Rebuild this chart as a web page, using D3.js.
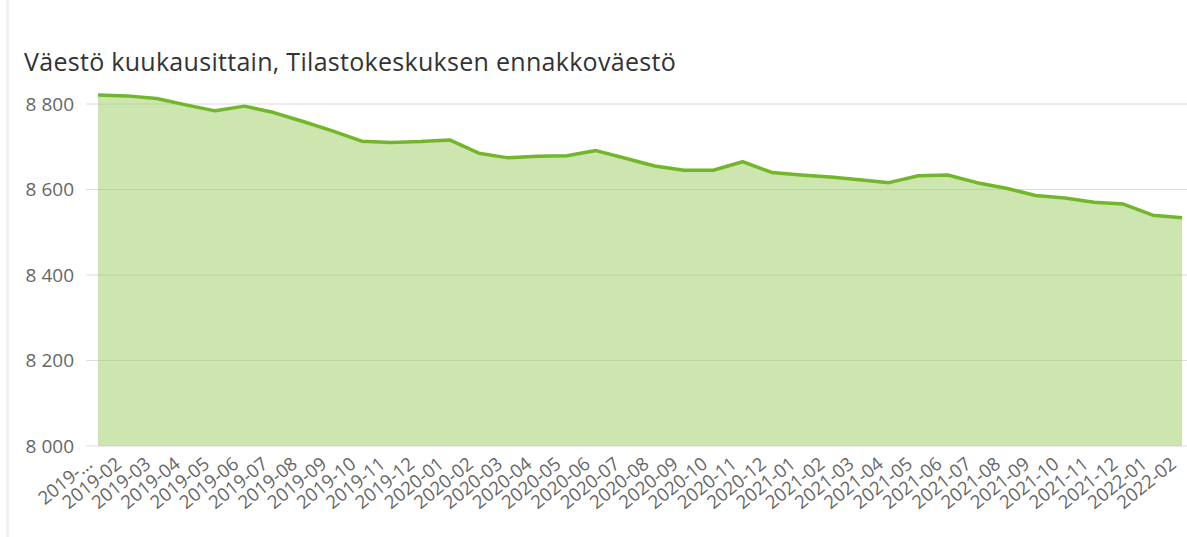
<!DOCTYPE html>
<html>
<head>
<meta charset="utf-8">
<script src="https://cdn.jsdelivr.net/npm/d3@7"></script>
<style>
  body { margin: 0; background: #fff; }
  svg { font-family: "Open Sans", "Noto Sans", sans-serif; }
</style>
</head>
<body>
<svg></svg>
<script>
var title = "Väestö kuukausittain, Tilastokeskuksen ennakkoväestö";

var months = ["2019-01","2019-02","2019-03","2019-04","2019-05","2019-06","2019-07","2019-08",
  "2019-09","2019-10","2019-11","2019-12","2020-01","2020-02","2020-03","2020-04","2020-05",
  "2020-06","2020-07","2020-08","2020-09","2020-10","2020-11","2020-12","2021-01","2021-02",
  "2021-03","2021-04","2021-05","2021-06","2021-07","2021-08","2021-09","2021-10","2021-11",
  "2021-12","2022-01","2022-02"];

var population = [8821, 8819, 8813, 8798, 8784, 8795, 8780, 8759, 8737, 8713, 8710, 8712,
  8716, 8685, 8674, 8678, 8679, 8691, 8673, 8655, 8645, 8645, 8665, 8640, 8634, 8629,
  8623, 8616, 8632, 8634, 8616, 8603, 8586, 8580, 8570, 8566, 8540, 8534];

var yTicks = [8000, 8200, 8400, 8600, 8800];

var svg = d3.select("svg")
            .attr("width", 1187)
            .attr("height", 537);

var height = 537;

// card border on the left
svg.append("rect")
   .attr("x", 6).attr("y", 0)
   .attr("width", 3).attr("height", height)
   .attr("fill", "#f2f2f2");

var titleText = svg.append("text")
   .attr("x", 24)
   .attr("y", 71)
   .attr("font-size", 25)
   .attr("fill", "#333")
   .text(title);

// stretch the title a bit to the width of the original
var tw = titleText.node().getComputedTextLength();
titleText.attr("letter-spacing", (652 - tw) / title.length);

var xScale = d3.scalePoint()
               .domain(months)
               .range([98, 1182]);

var yScale = d3.scaleLinear()
               .domain([8000, 8800])
               .range([446, 104]);

// grid lines
svg.selectAll("line.grid")
   .data(yTicks)
   .enter()
   .append("line")
   .attr("class", "grid")
   .attr("x1", 86)
   .attr("x2", 1187)
   .attr("y1", function(d) { return yScale(d); })
   .attr("y2", function(d) { return yScale(d); })
   .attr("stroke", "#dcdcdc")
   .attr("stroke-width", 1);

var area = d3.area()
             .x(function(d, i) { return xScale(months[i]); })
             .y0(yScale(8000))
             .y1(function(d) { return yScale(d); });

var line = d3.line()
             .x(function(d, i) { return xScale(months[i]); })
             .y(function(d) { return yScale(d); });

svg.append("path")
   .datum(population)
   .attr("d", area)
   .attr("fill", "#9bcb5e")
   .attr("fill-opacity", 0.5);

svg.append("path")
   .datum(population)
   .attr("d", line)
   .attr("fill", "none")
   .attr("stroke", "#72b62b")
   .attr("stroke-width", 3.5)
   .attr("stroke-linejoin", "round");

// y axis labels
var yAxis = d3.axisLeft(yScale)
              .tickValues(yTicks)
              .tickSize(0)
              .tickPadding(0)
              .tickFormat(function(d) { return d3.format(",")(d).replace(",", " "); });

var gy = svg.append("g")
            .attr("transform", "translate(74,0)")
            .call(yAxis);
gy.select(".domain").remove();
gy.selectAll("text")
  .attr("font-family", "'Open Sans', sans-serif")
  .attr("font-size", 19)
  .attr("fill", "#666");

// x axis labels
var xAxis = d3.axisBottom(xScale)
              .tickSize(0)
              .tickPadding(0)
              .tickFormat(function(d, i) { return i == 0 ? d.slice(0, 5) + "..." : d; });

var gx = svg.append("g")
            .attr("transform", "translate(0,455)")
            .call(xAxis);
gx.select(".domain").remove();
gx.selectAll("text")
  .attr("font-family", "'Open Sans', sans-serif")
  .attr("font-size", 18.5)
  .attr("fill", "#666")
  .attr("text-anchor", "end")
  .attr("y", 0)
  .attr("dy", 0)
  .attr("transform", "translate(-5,11) rotate(-39)");
</script>
</body>
</html>
